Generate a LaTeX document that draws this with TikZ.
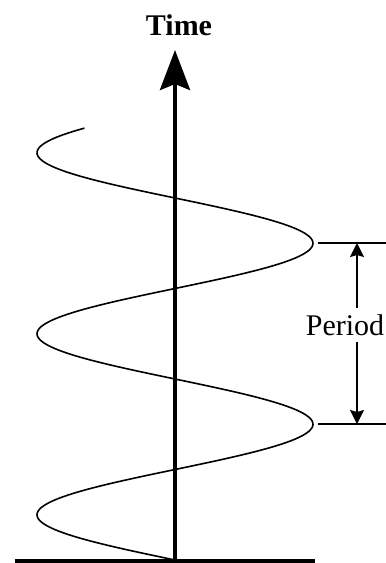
\documentclass[tikz,border=0pt]{standalone}
\usepackage{fontspec}
\setmainfont{Liberation Serif}
\usetikzlibrary{arrows.meta}
\begin{document}
\begin{tikzpicture}[x=0.5pt, y=-0.5pt,
  axis/.style={line width=2pt, -{Stealth[length=20pt, width=15pt, inset=3pt]}},
  wave/.style={line width=0.8pt},
  dimline/.style={line width=0.9pt},
  dimarrow/.style={dimline, -{Stealth[length=7pt, width=7pt, inset=1pt]}},
  lbl/.style={font=\fontsize{15}{18}\selectfont, inner sep=3pt},
  title/.style={lbl, font=\fontsize{15}{18}\selectfont\bfseries}]
  \useasboundingbox (0,0) rectangle (386,563);
  % ground and time axis
  \coordinate (gl) at (15,561);
  \coordinate (gr) at (315,561);
  \coordinate (o) at (175,561);
  \coordinate (tip) at (175,50);
  \draw[line width=1.6pt] (gl) -- (gr);
  \node[title] (time) at (179,25) {Time};
  % the wave
  \draw[wave] plot[domain=0:859, samples=240, variable=\t]
    ({175-138*sin(\t)}, {560-0.50278*\t});
  \draw[axis] (o) -- (tip);
  % period marks
  \coordinate (ptopl) at (318,243);
  \coordinate (ptopr) at (386,243);
  \coordinate (pbotl) at (318,424);
  \coordinate (pbotr) at (386,424);
  \coordinate (ptop) at (357,243);
  \coordinate (pbot) at (357,424);
  \draw[dimline] (ptopl) -- (ptopr);
  \draw[dimline] (pbotl) -- (pbotr);
  \node[lbl] (period) at (345,325) {Period};
  \draw[dimarrow] (period.north -| ptop) -- (ptop);
  \draw[dimarrow] (period.south -| pbot) -- (pbot);
\end{tikzpicture}
\end{document}
